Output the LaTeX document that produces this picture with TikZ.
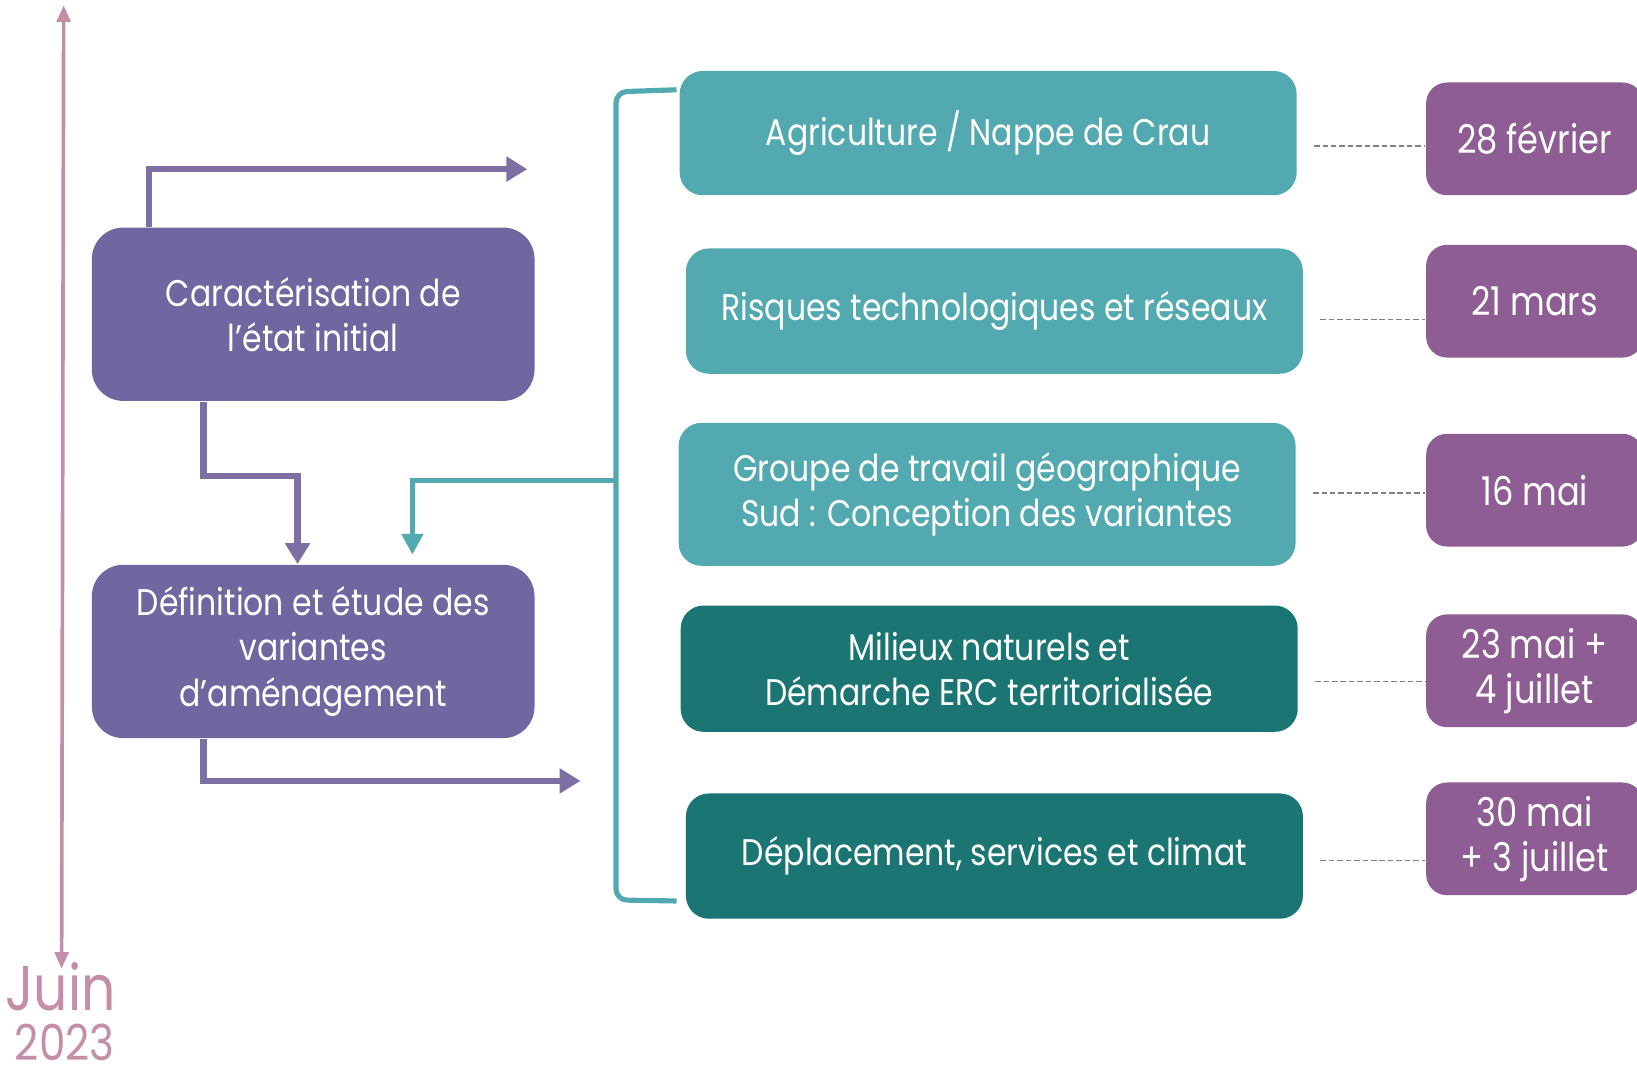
\documentclass[tikz,border=0pt]{standalone}
\usepackage{fontspec}
\setmainfont{Poppins}[FakeStretch=0.85]
\usetikzlibrary{arrows.meta}
\definecolor{phaseviolet}{HTML}{6E67A0}
\definecolor{flowviolet}{HTML}{7D6FA3}
\definecolor{atelierteal}{HTML}{53A9B0}
\definecolor{atelierdark}{HTML}{1A7573}
\definecolor{dateviolet}{HTML}{8D5D93}
\definecolor{timepink}{HTML}{C48DA8}
\tikzset{
    phasebox/.style={rounded corners=0.3cm, fill=phaseviolet, text=white, align=center, inner sep=0pt,
        minimum width=4.24cm, minimum height=1.66cm, font=\fontsize{10.1}{12.3}\selectfont},
    atelier/.style={rounded corners=0.22cm, fill=atelierteal, text=white, align=center, inner sep=0pt,
        minimum width=5.91cm, minimum height=1.2cm, font=\fontsize{10.1}{12.3}\selectfont},
    atelierfonce/.style={atelier, fill=atelierdark},
    datebox/.style={rounded corners=0.2cm, fill=dateviolet, text=white, align=center, inner sep=0pt,
        minimum width=2.08cm, minimum height=1.08cm, font=\fontsize{10.8}{12.3}\selectfont},
    flow/.style={draw=flowviolet, line width=1.7pt, -{Triangle[length=0.2cm,width=0.23cm]}},
    tealflow/.style={draw=atelierteal, line width=1.4pt, -{Triangle[length=0.2cm,width=0.2cm]}},
    bracket/.style={draw=atelierteal, line width=1.4pt, rounded corners=3pt},
    datelink/.style={draw=gray, line width=0.4pt, dash pattern=on 1.5pt off 0.8pt},
    timeline/.style={draw=timepink, line width=1pt, {Triangle[length=0.16cm,width=0.13cm]}-{Triangle[length=0.16cm,width=0.13cm]}},
    timelabel/.style={text=timepink, inner sep=0pt, anchor=base},
}
\begin{document}
\begin{tikzpicture}
    \useasboundingbox (0,0) rectangle (15.68,-10.28);
    \coordinate (ttop) at (0.61,-0.05);
    \coordinate (tbot) at (0.59,-9.28);
    \draw[timeline] (tbot) -- (ttop);
    \node[timelabel, font=\fontsize{17.2}{20}\selectfont] (juin) at (0.58,-9.68) {Juin};
    \node[timelabel, font=\fontsize{13.5}{16}\selectfont] (annee) at (0.62,-10.16) {2023};

    \node[phasebox] (carac) at (3.00,-3.01) {Caractérisation de\\l’état initial};
    \node[phasebox] (defin) at (3.00,-6.24) {Définition et étude des\\variantes\\d’aménagement};

    \node[atelier, minimum height=1.19cm] (agri) at (9.465,-1.275) {Agriculture / Nappe de Crau};
    \node[atelier] (risq) at (9.525,-2.98) {Risques technologiques et réseaux};
    \node[atelier, minimum height=1.37cm] (groupe) at (9.455,-4.735) {Groupe de travail géographique\\Sud : Conception des variantes};
    \node[atelierfonce, minimum height=1.21cm] (milieux) at (9.475,-6.405) {Milieux naturels et\\Démarche ERC territorialisée};
    \node[atelierfonce] (deplac) at (9.525,-8.20) {Déplacement, services et climat};

    \node[datebox] (d1) at (14.70,-1.33) {28 février};
    \node[datebox] (d2) at (14.70,-2.885) {21 mars};
    \node[datebox] (d3) at (14.70,-4.695) {16 mai};
    \node[datebox] (d4) at (14.70,-6.425) {23 mai +\\4 juillet};
    \node[datebox] (d5) at (14.70,-8.035) {30 mai\\+ 3 juillet};

    \foreach \a/\d/\y in {agri/d1/-1.40, risq/d2/-3.06, groupe/d3/-4.72, milieux/d4/-6.53, deplac/d5/-8.24}
        \draw[datelink] ([xshift=0.16cm]\a.east |- 0,\y) -- (\d.west |- 0,\y);

    \coordinate (a1end) at (5.05,-1.62);
    \coordinate (a3end) at (5.56,-7.48);
    \draw[flow] ([xshift=-1.57cm]carac.north) |- (a1end);
    \draw[flow] ([xshift=-1.05cm]carac.south) -- ++(0,-0.71) -| ([xshift=-0.15cm]defin.north);
    \draw[flow] ([xshift=-1.05cm]defin.south) |- (a3end);

    \coordinate (btop) at (6.48,-0.86);
    \coordinate (bbot) at (6.48,-8.63);
    \coordinate (bjoin) at (5.90,-4.60);
    \draw[bracket] (btop) -- (5.90,-0.88) -- (5.90,-8.62) -- (bbot);
    \draw[tealflow] (bjoin) -| ([xshift=0.95cm,yshift=0.09cm]defin.north);
\end{tikzpicture}
\end{document}
